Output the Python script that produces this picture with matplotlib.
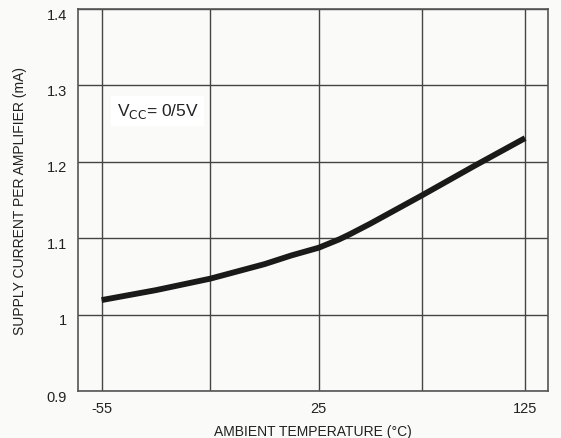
import matplotlib
matplotlib.use("Agg")
import matplotlib.pyplot as plt
import matplotlib.transforms as mtransforms
import numpy as np

# Data
temps = [-55, -35, -15, 5, 15, 20, 25, 30, 35, 40, 50, 75, 100, 125]
current = [1.019, 1.032, 1.047, 1.066, 1.0775, 1.0825, 1.0875, 1.093, 1.0985, 1.105,
           1.119, 1.156, 1.194, 1.231]
x_ticks = [-55, 25, 125]
x_tick_labels = ["-55", "25", "125"]
x_grid = [-55, -15, 25, 75, 125]
y_ticks = [0.9, 1.0, 1.1, 1.2, 1.3, 1.4]
y_tick_labels = ["0.9", "1", "1.1", "1.2", "1.3", "1.4"]

plt.rcParams['font.family'] = ['Liberation Sans', 'DejaVu Sans']

# piecewise-linear temperature axis (as in the original datasheet)
def fwd(t):
    t = np.asarray(t, dtype=float)
    return np.where(t <= 25, (t + 55) / 80 * 2.05, 2.05 + (t - 25) / 100 * 1.95)

def inv(u):
    u = np.asarray(u, dtype=float)
    return np.where(u <= 2.05, u / 2.05 * 80 - 55, 25 + (u - 2.05) / 1.95 * 100)

bg = "#fafaf8"
fig = plt.figure(figsize=(5.61, 4.39), dpi=100, facecolor=bg)
ax = fig.add_axes([78 / 561, 1 - 392 / 439, 470 / 561, 382 / 439], facecolor=bg)
ax.set_xscale('function', functions=(fwd, inv))

for xg in x_grid:
    ax.axvline(xg, color="#444444", lw=1.0, zorder=1)
for yg in y_ticks:
    ax.axhline(yg, color="#444444", lw=1.0, zorder=1)

ax.plot(temps, current, color="#1a1a1a", lw=4.2, solid_capstyle='butt',
        solid_joinstyle='round', zorder=3)

ax.set_xlim(-63.7, 136.1)
ax.set_ylim(0.9, 1.4)
ax.set_xticks(x_ticks)
ax.set_xticklabels(x_tick_labels)
ax.set_yticks(y_ticks)
ax.set_yticklabels(y_tick_labels)
ax.tick_params(length=0, labelsize=10.5, colors="#222222")
ax.tick_params(axis='y', pad=8)
ax.tick_params(axis='x', pad=7)

off = mtransforms.ScaledTranslation(0, -4 / 100, fig.dpi_scale_trans)
for lbl in ax.get_yticklabels():
    lbl.set_transform(lbl.get_transform() + off)

for s in ax.spines.values():
    s.set_color("#555555")
    s.set_linewidth(1.2)

ax.set_ylabel("SUPPLY CURRENT PER AMPLIFIER (mA)", fontsize=10, color="#222222", labelpad=14)
ax.set_xlabel("AMBIENT TEMPERATURE (°C)", fontsize=10, color="#222222", labelpad=7)

ax.text(-49.5, 1.2667, r"V$_{\mathrm{CC}}$= 0/5V", fontsize=12.5, color="#222222",
        va='center', ha='left', zorder=4,
        bbox=dict(facecolor="white", edgecolor="none", pad=4))

fig.savefig("out.png", dpi=100, facecolor=bg)
